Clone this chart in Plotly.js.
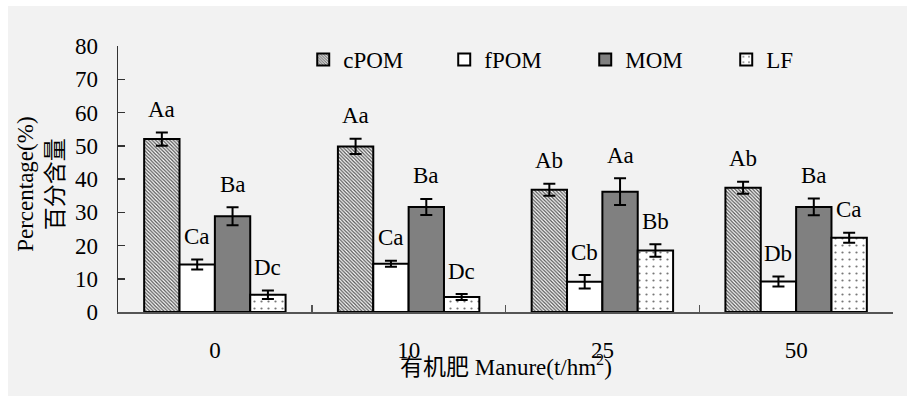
<!DOCTYPE html>
<html>
<head>
<meta charset="utf-8">
<script src="https://cdn.plot.ly/plotly-3.0.1.min.js"></script>
<style>
  html, body { margin: 0; padding: 0; background: #ffffff; }
  #chart { position: absolute; left: 8px; top: 6px; width: 899px; height: 390px; }
</style>
</head>
<body>
<div id="chart"></div>
<script>
// Manure application rates (t/hm2)
const categories = ['0', '10', '25', '50'];

// Organic matter fractions, percentage of total, with standard errors
const cPOM = [52.0, 49.8, 36.8, 37.4];
const cPOMErr = [2.0, 2.3, 1.8, 1.8];
const fPOM = [14.3, 14.5, 9.1, 9.2];
const fPOMErr = [1.5, 0.9, 2.0, 1.5];
const MOM = [28.8, 31.6, 36.2, 31.6];
const MOMErr = [2.7, 2.4, 4.0, 2.5];
const LF = [5.2, 4.5, 18.5, 22.3];
const LFErr = [1.3, 0.9, 1.9, 1.5];

// Significance letters
const cPOMSig = ['Aa', 'Aa', 'Ab', 'Ab'];
const fPOMSig = ['Ca', 'Ca', 'Cb', 'Db'];
const MOMSig = ['Ba', 'Ba', 'Aa', 'Ba'];
const LFSig = ['Dc', 'Dc', 'Bb', 'Ca'];

const seriesNames = ['cPOM', 'fPOM', 'MOM', 'LF'];
const seriesValues = [cPOM, fPOM, MOM, LF];
const seriesErrors = [cPOMErr, fPOMErr, MOMErr, LFErr];
const seriesSig = [cPOMSig, fPOMSig, MOMSig, LFSig];

const FONT = "'Liberation Serif', 'Noto Sans CJK SC', serif";
const FS = 23;
const styles = [
  { color: '#ffffff', pattern: { shape: '\\', size: 2.5, solidity: 0.5, fgcolor: '#555555', bgcolor: '#ffffff' } },
  { color: '#ffffff' },
  { color: '#808080' },
  { color: '#ffffff', pattern: { shape: '.', size: 7, solidity: 0.08, fgcolor: '#777777', bgcolor: '#ffffff' } }
];

const traces = seriesNames.map((name, k) => ({
  type: 'bar',
  name: name,
  x: categories,
  y: seriesValues[k],
  marker: Object.assign({ line: { color: '#000000', width: 2 } }, styles[k]),
  error_y: { type: 'data', array: seriesErrors[k], visible: true, color: '#000000', thickness: 2, width: 6 }
}));

const bargap = 0.27;
const barW = (1 - bargap) / seriesNames.length;

// Letters sit above each error bar, centred on its bar
const annotations = [];
seriesNames.forEach((name, k) => {
  categories.forEach((c, i) => {
    annotations.push({
      x: i + (k - (seriesNames.length - 1) / 2) * barW,
      y: seriesValues[k][i] + seriesErrors[k][i],
      xref: 'x', yref: 'y',
      text: seriesSig[k][i],
      showarrow: false,
      yanchor: 'middle',
      yshift: 23,
      font: { family: FONT, size: FS, color: '#000000' }
    });
  });
});

annotations.push({
  xref: 'paper', yref: 'paper', x: 0.5, y: -0.2,
  xanchor: 'center', yanchor: 'middle', showarrow: false,
  text: '有机肥 Manure(t/hm<sup>2</sup>)',
  font: { family: FONT, size: FS, color: '#000000' }
});
annotations.push({
  xref: 'paper', yref: 'paper', x: -0.1, y: 0.48,
  xanchor: 'center', yanchor: 'middle', showarrow: false,
  textangle: -90,
  text: 'Percentage(%)<br>百分含量',
  font: { family: FONT, size: FS, color: '#000000' }
});

const layout = {
  width: 899,
  height: 390,
  margin: { l: 110, r: 14, t: 40, b: 84 },
  paper_bgcolor: '#f2f2f2',
  plot_bgcolor: '#f2f2f2',
  font: { family: FONT, size: FS, color: '#000000' },
  barmode: 'group',
  bargap: bargap,
  bargroupgap: 0,
  showlegend: true,
  legend: {
    orientation: 'h',
    x: 0.239, xanchor: 'left',
    y: 1.03, yanchor: 'top',
    bgcolor: 'rgba(0,0,0,0)',
    entrywidth: 96,
    entrywidthmode: 'pixels',
    traceorder: 'normal',
    font: { family: FONT, size: FS, color: '#000000' }
  },
  xaxis: {
    type: 'category',
    showline: true, linecolor: '#555555', linewidth: 1.5,
    ticks: 'inside', tickson: 'boundaries', ticklen: 7, tickcolor: '#555555', tickwidth: 1.5,
    showgrid: false, zeroline: false,
    ticklabelstandoff: 17,
    tickfont: { family: FONT, size: FS, color: '#000000' }
  },
  yaxis: {
    range: [0, 80],
    dtick: 10,
    showline: true, linecolor: '#333333', linewidth: 1.5,
    ticks: 'inside', ticklen: 7, tickcolor: '#333333', tickwidth: 1.5,
    showgrid: false, zeroline: false,
    ticklabelstandoff: 14,
    tickfont: { family: FONT, size: FS, color: '#000000' }
  },
  annotations: annotations
};

Plotly.newPlot('chart', traces, layout, { displayModeBar: false, staticPlot: true });
</script>
</body>
</html>
